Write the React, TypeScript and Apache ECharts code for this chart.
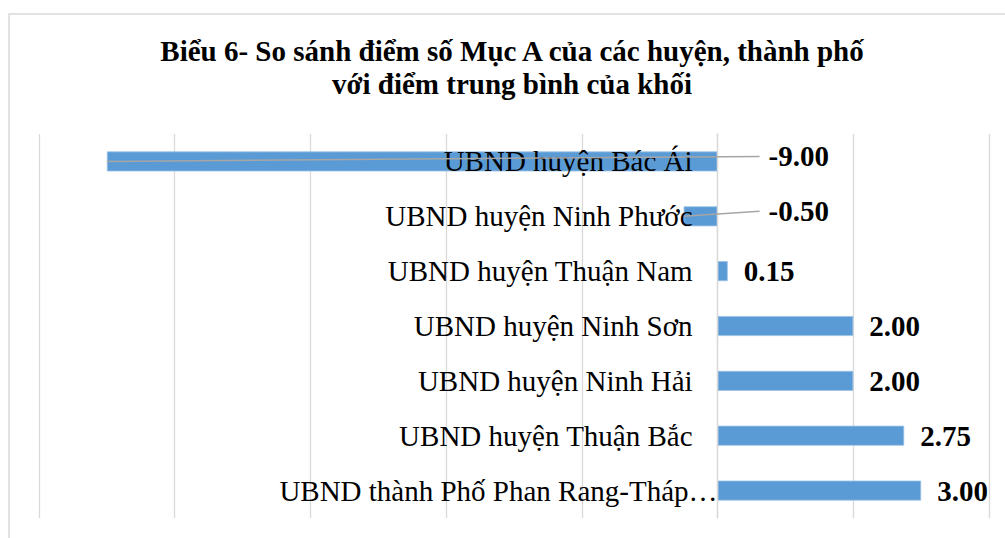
import React, { useEffect, useRef } from "react";
import * as echarts from "echarts";

const titleLines = [
  "Biểu 6- So sánh điểm số Mục A của các huyện, thành phố",
  "với điểm trung bình của khối",
];

const categories = [
  "UBND huyện Bác Ái",
  "UBND huyện Ninh Phước",
  "UBND huyện Thuận Nam",
  "UBND huyện Ninh Sơn",
  "UBND huyện Ninh Hải",
  "UBND huyện Thuận Bắc",
  "UBND thành Phố Phan Rang-Tháp…",
];

const values = [-9.0, -0.5, 0.15, 2.0, 2.0, 2.75, 3.0];

const xMin = -10;
const xMax = 4;
const xInterval = 2;

const SERIF = '"Liberation Serif", "Times New Roman", serif';

const GRID_LEFT = 39;
const GRID_WIDTH = 950;

export default function App() {
  const ref = useRef<HTMLDivElement>(null);

  useEffect(() => {
    if (!ref.current) return;
    const chart = echarts.init(ref.current, null, { renderer: "svg" });

    const negData = values
      .map((v, i) => (v < 0 ? [v, i] : null))
      .filter((d) => d !== null) as number[][];

    // place the category axis on the value axis' zero
    const zeroOffset = -GRID_WIDTH * ((0 - xMin) / (xMax - xMin));

    chart.setOption({
      animation: false,
      backgroundColor: "#ffffff",
      graphic: [
        {
          type: "rect",
          shape: { x: 9, y: 14, width: 1010, height: 540 },
          style: { fill: "none", stroke: "#d9d9d9", lineWidth: 1.5 },
          silent: true,
        },
        {
          type: "text",
          x: 512,
          y: 34,
          style: {
            text: titleLines.join("\n"),
            align: "center",
            verticalAlign: "top",
            fontFamily: SERIF,
            fontWeight: "bold",
            fontSize: 29,
            lineHeight: 33,
            fill: "#000000",
          },
        },
      ],
      grid: {
        left: GRID_LEFT,
        top: 134,
        width: GRID_WIDTH,
        height: 384,
        containLabel: false,
        outerBoundsMode: "none",
      },
      xAxis: {
        type: "value",
        min: xMin,
        max: xMax,
        interval: xInterval,
        axisLabel: { show: false },
        axisLine: { show: false },
        axisTick: { show: false },
        splitLine: { show: true, lineStyle: { color: "#d9d9d9", width: 1.3 } },
      },
      yAxis: {
        type: "category",
        inverse: true,
        position: "left",
        offset: zeroOffset,
        z: 3,
        data: categories.map((c) =>
          c.endsWith("…")
            ? { value: c, textStyle: { padding: [0, -25, 0, 0] } }
            : c
        ),
        axisLine: {
          show: true,
          onZero: false,
          lineStyle: { color: "#d9d9d9", width: 1.3 },
        },
        axisTick: { show: false },
        splitLine: { show: false },
        axisLabel: {
          margin: 25,
          color: "#000000",
          fontFamily: SERIF,
          fontSize: 29,
        },
      },
      series: [
        {
          type: "bar",
          data: values.map((v) => ({
            value: v,
            label: { show: v >= 0 },
          })),
          barWidth: 20,
          itemStyle: { color: "#5b9bd5", borderColor: "#9dc3e6", borderWidth: 0.8 },
          label: {
            show: true,
            position: "right",
            distance: 16,
            color: "#000000",
            fontFamily: SERIF,
            fontWeight: "bold",
            fontSize: 29,
            formatter: (p: any) => Number(p.value).toFixed(2),
          },
          z: 2,
        },
        {
          type: "custom",
          data: negData,
          encode: { x: 0, y: 1 },
          z: 5,
          renderItem: (params: any, api: any) => {
            const v = api.value(0);
            const c = api.value(1);
            const start = api.coord([v, c]);
            const zero = api.coord([0, c]);
            const endX = zero[0] + 42;
            const endY = start[1] - 5;
            return {
              type: "group",
              children: [
                {
                  type: "line",
                  shape: { x1: start[0], y1: start[1], x2: endX, y2: endY },
                  style: { stroke: "#a6a6a6", lineWidth: 1.5 },
                },
                {
                  type: "text",
                  x: endX + 9,
                  y: endY,
                  style: {
                    text: Number(v).toFixed(2),
                    align: "left",
                    verticalAlign: "middle",
                    fontFamily: SERIF,
                    fontWeight: "bold",
                    fontSize: 29,
                    fill: "#000000",
                  },
                },
              ],
            };
          },
        },
      ],
    });

    return () => chart.dispose();
  }, []);

  return (
    <div
      ref={ref}
      style={{ position: "fixed", left: 0, top: 0, width: 1005, height: 538 }}
    />
  );
}
